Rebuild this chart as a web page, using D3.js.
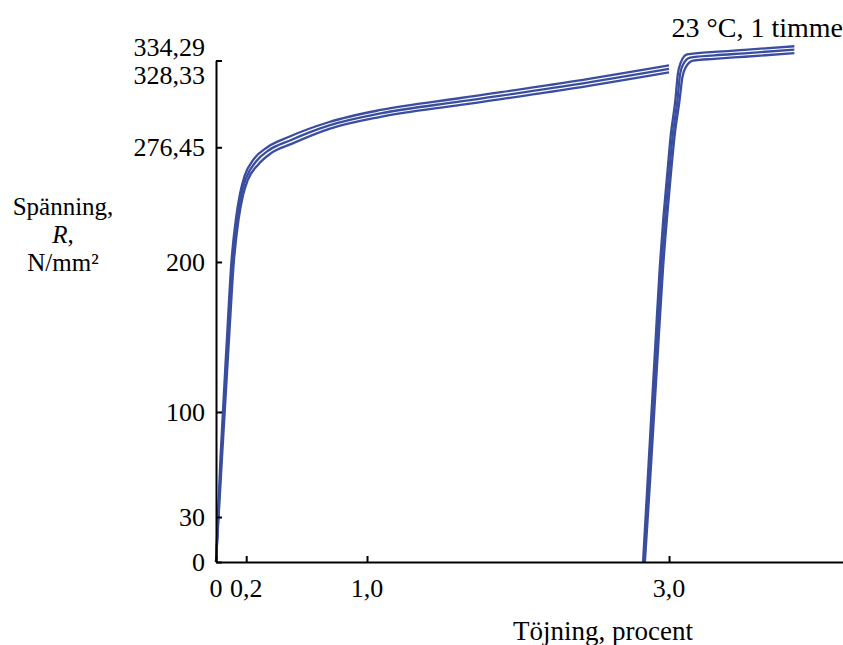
<!DOCTYPE html>
<html>
<head>
<meta charset="utf-8">
<script src="https://cdn.jsdelivr.net/npm/d3@7"></script>
<style>
  html, body { margin: 0; padding: 0; background: #fff; }
  svg { display: block; }
</style>
</head>
<body>
<svg id="chart" width="843" height="645"></svg>
<script>
// Stress–strain curves, [strain %, stress N/mm²]
const loadA = [[0,0],[0.03,70],[0.073,150],[0.102,200],[0.131,228],[0.16,246],[0.19,257.5],[0.25,268.5],[0.34,276.5],[0.48,283.3],[0.75,293.3],[1.09,301.3],[1.62,309.3],[2.3,319.3],[3.0,331]];
const loadB = [[0,0],[0.035,70],[0.08,150],[0.11,200],[0.14,228],[0.17,246],[0.2,256],[0.265,267],[0.35,274.5],[0.49,281],[0.75,291],[1.09,299],[1.62,307],[2.3,317],[3.0,328.7]];
const loadC = [[0,0],[0.04,70],[0.087,150],[0.118,200],[0.149,228],[0.18,245],[0.21,254.5],[0.28,265],[0.36,272.2],[0.5,278.7],[0.75,288.7],[1.09,296.7],[1.62,304.7],[2.3,314.7],[3.0,326.4]];

const reloadA = [[2.828,0],[2.856,50],[2.884,100],[2.912,150],[2.939,197],[2.963,230],[2.985,255],[3.012,285],[3.042,308],[3.058,325],[3.078,333],[3.12,338.3],[3.3,340],[3.5,341.4],[3.83,343.8]];
const reloadB = [[2.834,0],[2.864,50],[2.893,100],[2.922,150],[2.950,197],[2.975,230],[2.997,255],[3.025,285],[3.056,308],[3.073,325],[3.095,332],[3.14,336.2],[3.3,337.7],[3.5,339.1],[3.83,341.5]];
const reloadC = [[2.84,0],[2.872,50],[2.902,100],[2.932,150],[2.961,197],[2.987,230],[3.009,255],[3.038,285],[3.07,308],[3.088,323],[3.112,330],[3.16,334.2],[3.3,335.4],[3.5,336.8],[3.83,339.2]];

const series = [loadA, loadB, loadC, reloadA, reloadB, reloadC];

const yTicks = [0, 30, 100, 200, 276.45, 328.33, 334.29];
const yTickLabels = ["0", "30", "100", "200", "276,45", "328,33", "334,29"];
const yTickMarks = [0, 30, 100, 200, 276.45, 334.29];
const xTicks = [0, 0.2, 1.0, 3.0];
const xTickLabels = ["0", "0,2", "1,0", "3,0"];

const serif = "'Liberation Serif', 'Times New Roman', serif";

const svg = d3.select("#chart");
const x = d3.scaleLinear().domain([0, 4.152]).range([216, 843]);
const y = d3.scaleLinear().domain([0, 334.29]).range([562, 60.5]);

const lineColor = "#3a4d9f";

// curves
const line = d3.line()
  .x(d => x(d[0]))
  .y(d => y(d[1]))
  .curve(d3.curveMonotoneX);

svg.append("g")
  .selectAll("path")
  .data(series)
  .join("path")
  .attr("d", line)
  .attr("fill", "none")
  .attr("stroke", lineColor)
  .attr("stroke-width", 2.3)
  .attr("stroke-linejoin", "round");

// y axis, ticks pointing inward
const yAxis = d3.axisLeft(y)
  .tickValues(yTickMarks)
  .tickSize(-6)
  .tickSizeOuter(0)
  .tickFormat("");
const gy = svg.append("g").attr("transform", `translate(${x(0)},0)`).call(yAxis);
gy.select(".domain").attr("stroke", "#000").attr("stroke-width", 2);
gy.selectAll(".tick line").attr("stroke", "#000").attr("stroke-width", 2);

// y tick labels (the two top labels are nudged apart)
const yLabelNudge = [0, 0, 0, 0, 0, 6, -13];
svg.append("g")
  .selectAll("text")
  .data(yTicks)
  .join("text")
  .attr("x", 205)
  .attr("y", (d, i) => y(d) + yLabelNudge[i])
  .attr("dy", "0.34em")
  .attr("text-anchor", "end")
  .attr("font-family", serif)
  .attr("font-size", 26)
  .text((d, i) => yTickLabels[i]);

// x axis, ticks pointing up
const xAxis = d3.axisBottom(x)
  .tickValues(xTicks)
  .tickSize(-6)
  .tickSizeOuter(0)
  .tickFormat("");
const gx = svg.append("g").attr("transform", `translate(0,${y(0)})`).call(xAxis);
gx.select(".domain").attr("stroke", "#000").attr("stroke-width", 2);
gx.selectAll(".tick line").attr("stroke", "#000").attr("stroke-width", 2);

svg.append("g")
  .selectAll("text")
  .data(xTicks)
  .join("text")
  .attr("x", d => x(d))
  .attr("y", 597)
  .attr("text-anchor", "middle")
  .attr("font-family", serif)
  .attr("font-size", 26)
  .text((d, i) => xTickLabels[i]);

// axis titles
svg.append("text")
  .attr("x", 603)
  .attr("y", 640)
  .attr("text-anchor", "middle")
  .attr("font-family", serif)
  .attr("font-size", 27)
  .text("Töjning, procent");

// y title on three lines
const yTitle = svg.append("g")
  .attr("font-family", serif)
  .attr("font-size", 25)
  .attr("text-anchor", "middle");
yTitle.append("text").attr("x", 63).attr("y", 214.5).text("Spänning,");
const r = yTitle.append("text").attr("x", 63).attr("y", 242.5);
r.append("tspan").attr("font-style", "italic").text("R");
r.append("tspan").text(",");
yTitle.append("text").attr("x", 63).attr("y", 270.5).text("N/mm²");

// condition note
svg.append("text")
  .attr("x", 843)
  .attr("y", 37)
  .attr("text-anchor", "end")
  .attr("font-family", serif)
  .attr("font-size", 28)
  .text("23 °C, 1 timme");
</script>
</body>
</html>
